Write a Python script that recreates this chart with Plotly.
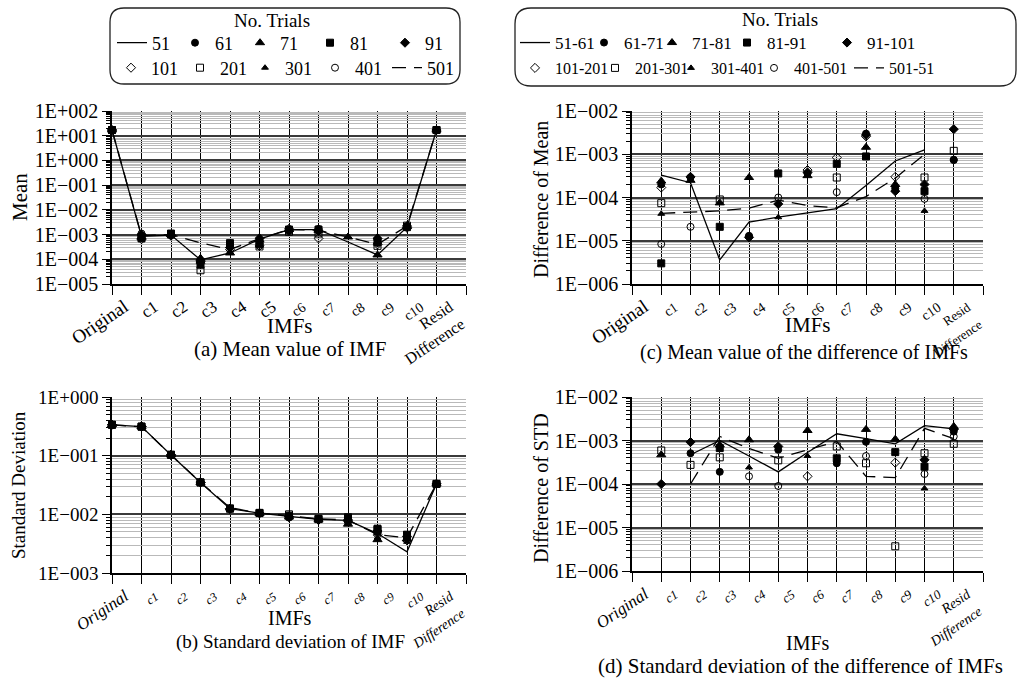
import plotly.graph_objects as go

W, H = 1020, 680
SERIF = "Liberation Serif"

# ---------------- categories ----------------
cat_labels = ["Original", "c1", "c2", "c3", "c4", "c5", "c6", "c7", "c8", "c9", "c10", "Resid<br>Difference"]
x_pos = list(range(len(cat_labels)))          # data positions (Original .. Resid)

# ---------------- (a) Mean value of IMF ----------------
mean_51  = [17, 8.5e-4, 9.5e-4, 9.5e-5, 1.8e-4, 6.5e-4, 1.6e-3, 1.6e-3, 5.0e-4, 1.5e-4, 2.0e-3, 17]
mean_501 = [17, 9.0e-4, 1.0e-3, 4.6e-4, 2.5e-4, 6.9e-4, 1.6e-3, 1.5e-3, 8.0e-4, 4.0e-4, 2.2e-3, 17]
mean_61  = [17, 9.0e-4, 1.0e-3, 9.0e-5, 3.5e-4, 5.5e-4, 1.5e-3, 1.7e-3, None, 6.0e-4, 2.0e-3, 17]
mean_71  = [17, 8.0e-4, 1.0e-3, 1.1e-4, 1.8e-4, 6.0e-4, 1.6e-3, 1.5e-3, 8.0e-4, 1.5e-4, 2.1e-3, 17]
mean_81  = [17, 7.0e-4, 1.1e-3, 6.0e-5, 4.5e-4, 4.0e-4, 1.6e-3, 1.6e-3, None, 5.0e-4, 2.0e-3, 17]
mean_91  = [17, 1.0e-3, 9.5e-4, 8.0e-5, 3.0e-4, 7.0e-4, 1.4e-3, 1.4e-3, None, 7.0e-4, 2.2e-3, 17]
mean_101 = [17, 6.5e-4, 9.0e-4, 7.0e-5, 2.5e-4, 3.5e-4, 1.7e-3, 7.0e-4, None, 4.0e-4, 1.9e-3, 17]
mean_201 = [17, 8.0e-4, 1.0e-3, 3.6e-5, 4.0e-4, 3.3e-4, 1.3e-3, 1.1e-3, None, 3.5e-4, 2.3e-3, 17]
mean_301 = [17, 9.0e-4, 1.0e-3, 1.0e-4, 2.0e-4, 5.0e-4, 1.6e-3, 1.5e-3, None, 8.0e-4, 2.0e-3, 17]
mean_401 = [17, 1.1e-3, 1.05e-3, 8.0e-5, 3.0e-4, 6.0e-4, 1.5e-3, 1.6e-3, None, 4.5e-4, 2.1e-3, 17]

# ---------------- (b) Standard deviation of IMF ----------------
std_51  = [0.336, 0.314, 0.103, 0.035, 0.0125, 0.0105, 0.0092, 0.0082, 0.0079, 0.0047, 0.0023, 0.033]
std_501 = [0.336, 0.310, 0.103, 0.035, 0.0130, 0.0105, 0.0095, 0.0084, 0.0080, 0.0045, 0.0040, 0.033]
std_61  = [0.336, 0.314, 0.103, 0.035, 0.0125, 0.0105, 0.0088, 0.0082, 0.0085, 0.0050, 0.0040, 0.033]
std_71  = [0.336, 0.314, 0.103, 0.035, 0.0128, 0.0104, 0.0090, 0.0080, 0.0068, 0.0037, 0.0038, 0.033]
std_81  = [0.336, 0.312, 0.104, 0.035, 0.0125, 0.0106, 0.0095, 0.0083, 0.0089, 0.0057, 0.0045, 0.033]
std_91  = [0.336, 0.314, 0.103, 0.035, 0.0124, 0.0105, 0.0090, 0.0081, 0.0080, 0.0052, 0.0042, 0.033]
std_101 = [0.336, 0.314, 0.103, 0.035, 0.0125, 0.0104, 0.0092, 0.0080, 0.0076, 0.0045, 0.0036, 0.033]
std_201 = [0.336, 0.313, 0.103, 0.035, 0.0126, 0.0105, 0.0100, 0.0084, 0.0082, 0.0055, 0.0044, 0.033]
std_301 = [0.336, 0.314, 0.103, 0.035, 0.0125, 0.0105, 0.0091, 0.0082, 0.0072, 0.0040, 0.0034, 0.033]
std_401 = [0.336, 0.314, 0.103, 0.035, 0.0125, 0.0105, 0.0089, 0.0082, 0.0086, 0.0048, 0.0039, 0.033]

# ---------------- (c) Mean value of the difference of IMFs ----------------
dmean_51_61   = [None, 3.3e-4, 2.2e-4, 3.6e-6, 2.7e-5, 3.5e-5, 4.3e-5, 5.5e-5, 1.9e-4, 7.0e-4, 1.26e-3, None]
dmean_501_51  = [None, 4.3e-5, 4.6e-5, 4.9e-5, 5.7e-5, 8.7e-5, 6.5e-5, 5.8e-5, 1.05e-4, 2.8e-4, 1.0e-3, None]
dmean_61_71   = [None, 2.0e-4, 2.9e-4, None, 1.3e-5, None, 3.6e-4, None, 3.0e-3, 1.6e-4, None, 7.5e-4]
dmean_71_81   = [None, 2.4e-4, 2.5e-4, 7.5e-5, 2.9e-4, None, 3.2e-4, None, 1.45e-3, 2.0e-4, None, None]
dmean_81_91   = [None, 3.0e-6, None, 2.1e-5, None, 3.6e-4, None, 6.0e-4, 8.9e-4, None, 1.4e-4, None]
dmean_91_101  = [None, None, 3.0e-4, None, 1.2e-5, 7.1e-5, 3.8e-4, None, 2.8e-3, 1.4e-4, 2.0e-4, 3.8e-3]
dmean_101_201 = [None, 1.7e-4, None, None, None, None, 4.3e-4, 8.4e-4, 2.6e-3, 3.0e-4, None, None]
dmean_201_301 = [None, 7.4e-5, None, 9.0e-5, None, None, None, 2.9e-4, None, None, 2.9e-4, 1.2e-3]
dmean_301_401 = [None, 4.2e-5, None, None, None, 3.5e-5, None, None, None, 1.8e-4, 4.9e-5, None]
dmean_401_501 = [None, 8.4e-6, 2.1e-5, None, 1.25e-5, 1.0e-4, None, 1.33e-4, None, None, 9.3e-5, 7.3e-4]

# ---------------- (d) Standard deviation of the difference of IMFs ----------------
dstd_51_61   = [None, None, 4.7e-4, 1.0e-3, 4.4e-4, 1.9e-4, 5.3e-4, 1.43e-3, 1.1e-3, 8.4e-4, 2.2e-3, 1.86e-3]
dstd_501_51  = [None, None, 1.0e-4, 1.24e-3, 6.6e-4, 3.9e-4, 6.1e-4, 9.5e-4, 1.5e-4, 1.4e-4, 1.9e-3, 1.1e-3]
dstd_61_71   = [None, None, 5.1e-4, 1.9e-4, None, 6.1e-4, None, 3.0e-4, 9.3e-4, None, None, 1.6e-3]
dstd_71_81   = [None, 4.7e-4, None, 7.9e-4, 1.04e-3, None, 1.7e-3, None, 1.8e-3, 1.07e-3, None, 2.1e-3]
dstd_81_91   = [None, None, None, 6.7e-4, None, None, None, 3.9e-4, None, 5.4e-4, 2.5e-4, None]
dstd_91_101  = [None, 1.0e-4, 9.2e-4, None, None, 7.3e-4, None, None, None, None, 3.6e-4, 1.8e-3]
dstd_101_201 = [None, None, None, None, None, None, 1.5e-4, None, None, 3.1e-4, None, None]
dstd_201_301 = [None, 5.9e-4, 2.75e-4, 4.1e-4, None, 3.5e-4, None, 7.3e-4, 3.0e-4, 3.7e-6, 5.1e-4, 8.4e-4]
dstd_301_401 = [None, None, None, None, 2.4e-4, None, 4.4e-4, None, None, None, 7.9e-5, None]
dstd_401_501 = [None, None, None, None, 1.5e-4, 9.0e-5, None, None, 4.4e-4, None, 1.7e-4, 1.24e-3]

# ---------------- styles ----------------
MK = {
    "61": dict(symbol="circle", size=7),
    "71": dict(symbol="triangle-up", size=8),
    "81": dict(symbol="square", size=7),
    "91": dict(symbol="diamond", size=7),
    "101": dict(symbol="diamond-open", size=7),
    "201": dict(symbol="square-open", size=7),
    "301": dict(symbol="triangle-up", size=6),
    "401": dict(symbol="circle-open", size=7),
}
DASH = "14px,8px"

names_a = ["51", "61", "71", "81", "91", "101", "201", "301", "401", "501"]
names_c = ["51-61", "61-71", "71-81", "81-91", "91-101", "101-201", "201-301", "301-401", "401-501", "501-51"]
# legend entry widths (spacing of the legend rows only)
names_w = {
    "51": 18, "61": 20, "71": 25, "81": 30, "91": 20,
    "101": 24, "201": 20, "301": 25, "401": 27, "501": 30,
    "51-61": 24, "61-71": 23, "71-81": 30, "81-91": 55, "91-101": 60,
    "101-201": 35, "201-301": 31, "301-401": 38, "401-501": 50, "501-51": 60,
}
keys = ["61", "71", "81", "91", "101", "201", "301", "401"]


def px_x(p):
    return p / W


def px_y(p):
    return 1 - p / H


fig = go.Figure()


def add_panel(xa, ya, line_solid, line_dash, markers, names, legends, show):
    n0 = names[0]
    fig.add_trace(go.Scatter(x=x_pos, y=line_solid, mode="lines", name=n0,
                             line=dict(color="black", width=1.3), xaxis=xa, yaxis=ya,
                             showlegend=show, legend=legends[0], legendwidth=names_w[n0],
                             cliponaxis=False))
    for i, (key, vals) in enumerate(markers):
        nm = names[i + 1]
        lg = legends[0] if i < 4 else legends[1]
        fig.add_trace(go.Scatter(x=x_pos, y=vals, mode="markers", name=nm,
                                 marker=dict(color="black", line=dict(color="black", width=1), **MK[key]),
                                 xaxis=xa, yaxis=ya, showlegend=show, legend=lg,
                                 legendwidth=names_w[nm], cliponaxis=False))
    n9 = names[-1]
    fig.add_trace(go.Scatter(x=x_pos, y=line_dash, mode="lines", name=n9,
                             line=dict(color="black", width=1.3, dash=DASH), xaxis=xa, yaxis=ya,
                             showlegend=show, legend=legends[1], legendwidth=names_w[n9],
                             cliponaxis=False))


add_panel("x", "y", mean_51, mean_501,
          list(zip(keys, [mean_61, mean_71, mean_81, mean_91, mean_101, mean_201, mean_301, mean_401])),
          names_a, ["legend", "legend2"], True)
add_panel("x2", "y2", std_51, std_501,
          list(zip(keys, [std_61, std_71, std_81, std_91, std_101, std_201, std_301, std_401])),
          names_a, ["legend", "legend2"], False)
add_panel("x3", "y3", dmean_51_61, dmean_501_51,
          list(zip(keys, [dmean_61_71, dmean_71_81, dmean_81_91, dmean_91_101, dmean_101_201,
                          dmean_201_301, dmean_301_401, dmean_401_501])),
          names_c, ["legend3", "legend4"], True)
add_panel("x4", "y4", dstd_51_61, dstd_501_51,
          list(zip(keys, [dstd_61_71, dstd_71_81, dstd_81_91, dstd_91_101, dstd_101_201,
                          dstd_201_301, dstd_301_401, dstd_401_501])),
          names_c, ["legend3", "legend4"], False)


def tick_text(sizes, italic):
    out = []
    for lab, s in zip(cat_labels, sizes):
        t = f"<span style='font-size:{s}px'>{lab}</span>"
        if italic:
            t = f"<i>{t}</i>"
        out.append(t)
    return out


def xaxis(domain, anchor, sizes, italic):
    return dict(domain=domain, anchor=anchor, range=[0, 12], tickmode="array",
                tickvals=[i + 0.45 for i in x_pos], ticktext=tick_text(sizes, italic),
                tickangle=-34, ticks="", showgrid=False, zeroline=False, automargin=False,
                showline=True, linecolor="black", linewidth=1.5, ticklabelstandoff=6,
                tickfont=dict(family=SERIF, color="black", size=16),
                minor=dict(tickmode="linear", tick0=0, dtick=1, showgrid=True, gridcolor="black",
                           gridwidth=1.3, ticks="outside", ticklen=9, tickcolor="black", tickwidth=1.3))


def fmt(k):
    return f"1E+{k:03d}" if k >= 0 else f"1E\u2212{-k:03d}"


def yaxis(domain, anchor, lo, hi, fs):
    return dict(domain=domain, anchor=anchor, type="log", range=[lo, hi], tickmode="array",
                tickvals=[10.0 ** k for k in range(lo, hi + 1)],
                ticktext=[fmt(k) for k in range(lo, hi + 1)],
                ticks="outside", ticklen=8, tickcolor="black", tickwidth=1.3, automargin=False,
                showgrid=True, gridcolor="#3a3a3a", gridwidth=1.6, zeroline=False,
                showline=True, linecolor="black", linewidth=1.5,
                tickfont=dict(family=SERIF, color="black", size=fs),
                minor=dict(tickmode="array",
                           tickvals=[m * 10.0 ** k for k in range(lo, hi) for m in range(2, 10)],
                           showgrid=True, gridcolor="#b9b9b9", gridwidth=1.4, ticks="outside",
                           ticklen=4, tickcolor="black", tickwidth=1))


dom_xl = [px_x(112), px_x(466)]
dom_xr = [px_x(632), px_x(983)]
dom_top = [px_y(284), px_y(111)]
dom_bl = [px_y(573), px_y(397)]
dom_br = [px_y(571), px_y(397)]

sz_a = [19] + [17] * 5 + [14] * 5 + [16]
sz_b = [17] + [12] * 10 + [14]
sz_c = [19] + [14] * 10 + [13]
sz_d = [17] + [13] * 10 + [14]

fig.update_layout(
    width=W, height=H, margin=dict(l=0, r=0, t=0, b=0, autoexpand=False),
    paper_bgcolor="white", plot_bgcolor="white",
    font=dict(family=SERIF, color="black"),
    xaxis=xaxis(dom_xl, "y", sz_a, False),
    yaxis=yaxis(dom_top, "x", -5, 2, 20),
    xaxis2=xaxis(dom_xl, "y2", sz_b, True),
    yaxis2=yaxis(dom_bl, "x2", -3, 0, 19),
    xaxis3=xaxis(dom_xr, "y3", sz_c, False),
    yaxis3=yaxis(dom_top, "x3", -6, -2, 20),
    xaxis4=xaxis(dom_xr, "y4", sz_d, True),
    yaxis4=yaxis(dom_br, "x4", -6, -2, 20),
)


def leg(x, y, fs):
    return dict(x=px_x(x), y=px_y(y), orientation="h", xanchor="left", yanchor="middle",
                bgcolor="rgba(0,0,0,0)", borderwidth=0,
                font=dict(family=SERIF, size=fs, color="black"),
                itemsizing="trace", traceorder="normal", tracegroupgap=0, itemclick=False,
                itemdoubleclick=False)


fig.update_layout(
    legend=leg(112, 43, 18),
    legend2=leg(111, 68, 18),
    legend3=leg(515, 43, 17),
    legend4=leg(515, 68, 16),
)


def rounded_box(x0, y0, x1, y1, r):
    pts = [
        f"M {px_x(x0 + r)},{px_y(y0)}", f"L {px_x(x1 - r)},{px_y(y0)}",
        f"Q {px_x(x1)},{px_y(y0)} {px_x(x1)},{px_y(y0 + r)}", f"L {px_x(x1)},{px_y(y1 - r)}",
        f"Q {px_x(x1)},{px_y(y1)} {px_x(x1 - r)},{px_y(y1)}", f"L {px_x(x0 + r)},{px_y(y1)}",
        f"Q {px_x(x0)},{px_y(y1)} {px_x(x0)},{px_y(y1 - r)}", f"L {px_x(x0)},{px_y(y0 + r)}",
        f"Q {px_x(x0)},{px_y(y0)} {px_x(x0 + r)},{px_y(y0)}", "Z",
    ]
    return dict(type="path", xref="paper", yref="paper", path=" ".join(pts),
                line=dict(color="#222", width=1.3), fillcolor="rgba(0,0,0,0)", layer="above")


fig.add_shape(rounded_box(110, 8, 460, 84, 14))
fig.add_shape(rounded_box(515, 8, 1016, 86, 16))


def ann(text, x, y, size, angle=0):
    fig.add_annotation(text=text, x=px_x(x), y=px_y(y), xref="paper", yref="paper",
                       showarrow=False, textangle=angle, xanchor="center", yanchor="middle",
                       font=dict(family=SERIF, size=size, color="black"))


ann("No. Trials", 272, 20, 19)
ann("No. Trials", 780, 19, 19)
ann("Mean", 20, 197, 21, -90)
ann("Standard Deviation", 18, 485, 19, -90)
ann("Difference of Mean", 541, 200, 20, -90)
ann("Difference of STD", 541, 488, 20, -90)
ann("IMFs", 290, 326, 21)
ann("(a) Mean value of IMF", 290, 349, 21)
ann("IMFs", 290, 618, 20)
ann("(b) Standard deviation of IMF", 290, 642, 19)
ann("IMFs", 808, 325, 21)
ann("(c) Mean value of the difference of IMFs", 804, 352, 20)
ann("IMFs", 808, 643, 20)
ann("(d) Standard deviation of the difference of IMFs", 800, 666, 21)

fig.write_html("out.html")
